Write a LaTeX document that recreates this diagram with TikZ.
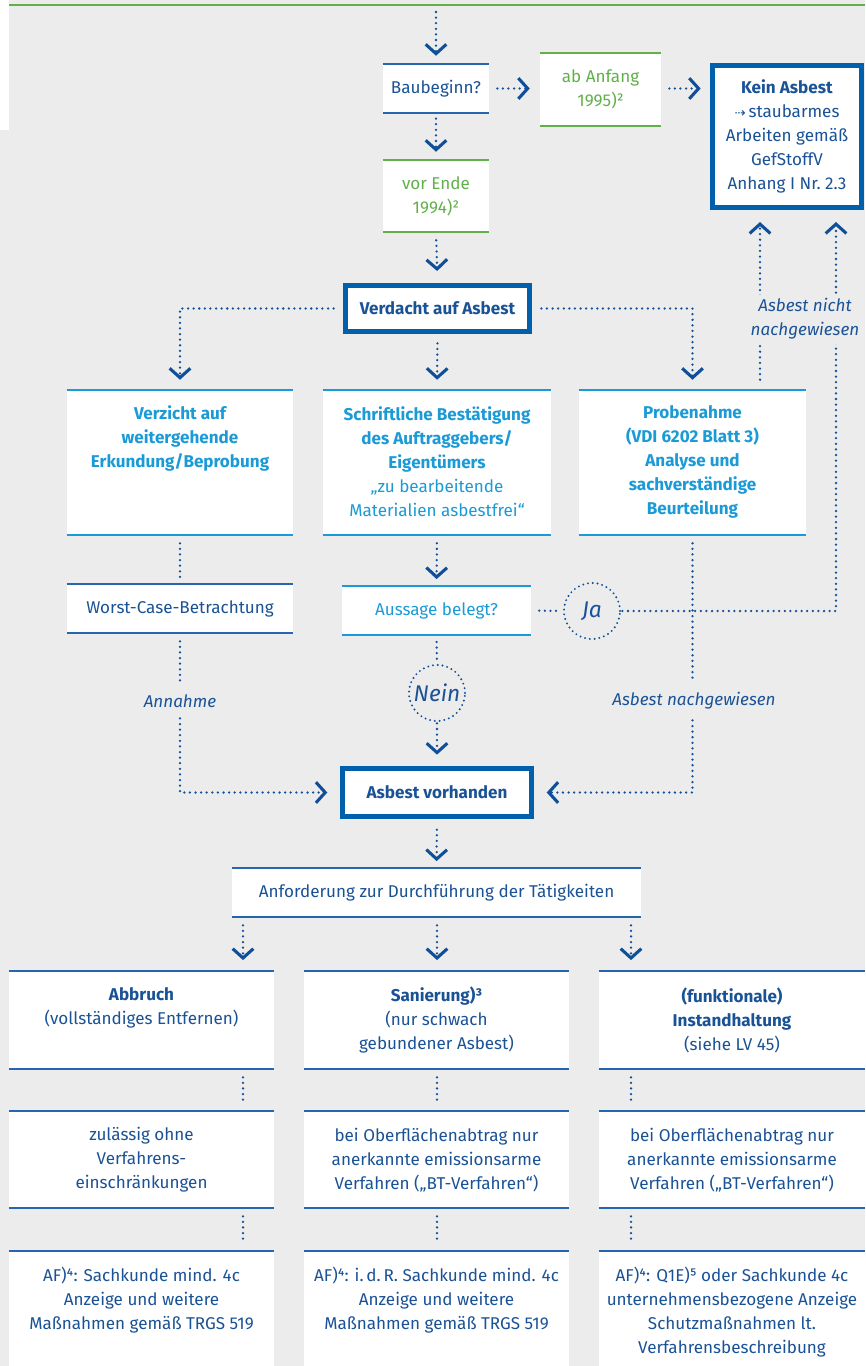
\documentclass[tikz,border=0pt]{standalone}
\usepackage{fontspec}
\setmainfont{Fira Sans}
\newfontfamily\dejavu{DejaVu Sans}
\usetikzlibrary{arrows.meta,fit,calc}
\definecolor{bg}{HTML}{ECECEC}
\definecolor{gr}{HTML}{62B04A}
\definecolor{dkblue}{HTML}{1A5296}
\definecolor{arrc}{HTML}{0F4E98}
\definecolor{midblue}{HTML}{0060AC}
\definecolor{lnblue}{HTML}{2566AE}
\definecolor{cy}{HTML}{1A9AD6}
\newcommand\tbl[2]{\draw[line width=1.7pt,#2] (#1.north west) -- (#1.north east) (#1.south west) -- (#1.south east);}
\newcommand\topl[2]{\draw[line width=1.7pt,#2] (#1.north west) -- (#1.north east);}
\begin{document}
\begin{tikzpicture}[x=0.75pt,y=-0.75pt,
  box/.style={inner sep=0pt, fill=white, draw=none},
  thickbox/.style={inner sep=0pt, fill=white, draw=midblue, line width=3.8pt},
  txt/.style={align=center, inner sep=0pt, text=dkblue, font=\fontsize{12.8}{18}\selectfont},
  txtb/.style={txt, font=\fontsize{12.8}{18}\selectfont\bfseries},
  lab/.style={txt, font=\fontsize{12.8}{18}\selectfont\itshape, fill=bg, inner sep=3pt},
  dl/.style={draw=arrc, line width=1.9pt, line cap=round, dash pattern=on 0pt off 4.2pt},
  circ/.style={circle, minimum size=42pt, inner sep=0pt, draw=arrc, line width=1.6pt, line cap=round, dash pattern=on 0pt off 3.6pt, text=dkblue, font=\fontsize{17}{18}\selectfont\itshape},
  arr/.style={-{Straight Barb[length=7pt,width=15.5pt,line width=2.3pt]}},
]
\useasboundingbox (0,0) rectangle (865,1366);
\fill[bg] (0,0) rectangle (865,1366);
\fill[white] (0,0) rectangle (9,130);
\draw[gr, line width=2.2pt] (9,5) -- (865,5);

% ---------- boxes ----------
\node[box, fit={(383,64) (489,113)}] (bau) {};
\tbl{bau}{lnblue}
\node[txt] (bau-t) at (bau) {Baubeginn?};

\node[box, fit={(540,53) (661,126)}] (ab) {};
\tbl{ab}{gr}
\node[txt, text=gr] (ab-t) at (600.5,89) {ab Anfang\\1995)²};

\node[thickbox, fit={(712.5,65.5) (861.5,207.5)}] (kein) {};
\node[txt] (kein-t) at (787,136) {\textbf{Kein Asbest}\\{\dejavu\fontsize{10}{10}\selectfont ⇢}\,staubarmes\\Arbeiten gemäß\\GefStoffV\\Anhang I Nr.~2.3};

\node[box, fit={(383,160) (489,232)}] (vor) {};
\tbl{vor}{gr}
\node[txt, text=gr] (vor-t) at (436,196) {vor Ende\\1994)²};

\node[thickbox, fit={(345.5,285.5) (529.5,331.5)}] (verd) {};
\node[txtb] (verd-t) at (verd) {Verdacht auf Asbest};

\node[box, fit={(67,390) (293,535)}] (verz) {};
\tbl{verz}{cy}
\node[txtb, text=cy] (verz-t) at (180,438) {Verzicht auf\\weitergehende\\Erkundung/Beprobung};

\node[box, fit={(323,390) (551,535)}] (schr) {};
\tbl{schr}{cy}
\node[txt, text=cy] (schr-t) at (437,462) {\textbf{Schriftliche Bestätigung}\\\textbf{des Auftraggebers/}\\\textbf{Eigentümers}\\„zu bearbeitende\\Materialien asbestfrei“};

\node[box, fit={(579,390) (806,535)}] (prob) {};
\tbl{prob}{cy}
\node[txtb, text=cy] (prob-t) at (692.5,462) {Probenahme\\(VDI 6202 Blatt 3)\\Analyse und\\sachverständige\\Beurteilung};

\node[box, fit={(67,584) (293,633)}] (worst) {};
\tbl{worst}{lnblue}
\node[txt] (worst-t) at (worst) {Worst-Case-Betrachtung};

\node[box, fit={(342,586) (531,635)}] (auss) {};
\tbl{auss}{cy}
\node[txt, text=cy] (auss-t) at (auss) {Aussage belegt?};

\node[circ] (ja) at (592,611) {Ja};
\node[circ] (nein) at (437,693) {Nein};

\node[thickbox, fit={(342.5,768.5) (531.5,816.5)}] (vorh) {};
\node[txtb] (vorh-t) at (vorh) {Asbest vorhanden};

\node[box, fit={(232,868) (641,917)}] (anf) {};
\tbl{anf}{lnblue}
\node[txt] (anf-t) at (anf) {Anforderung zur Durchführung der Tätigkeiten};

\node[box, fit={(9,971) (274,1069)}] (abb) {};
\tbl{abb}{lnblue}
\node[txt] (abb-t) at (141.5,1008) {\textbf{Abbruch}\\(vollständiges Entfernen)};
\node[box, fit={(304,971) (569,1069)}] (san) {};
\tbl{san}{lnblue}
\node[txt] (san-t) at (436.5,1020) {\textbf{Sanierung)³}\\(nur schwach\\gebundener Asbest)};
\node[box, fit={(599,971) (865,1069)}] (inst) {};
\tbl{inst}{lnblue}
\node[txt] (inst-t) at (732,1020) {\textbf{(funktionale)}\\\textbf{Instandhaltung}\\(siehe LV 45)};

\node[box, fit={(9,1111) (274,1208)}] (zul) {};
\tbl{zul}{lnblue}
\node[txt] (zul-t) at (141.5,1160) {zulässig ohne\\Verfahrens-\\einschränkungen};
\node[box, fit={(304,1111) (569,1208)}] (ob1) {};
\tbl{ob1}{lnblue}
\node[txt] (ob1-t) at (436.5,1160) {bei Oberflächenabtrag nur\\anerkannte emissionsarme\\Verfahren („BT-Verfahren“)};
\node[box, fit={(599,1111) (865,1208)}] (ob2) {};
\tbl{ob2}{lnblue}
\node[txt] (ob2-t) at (732,1160) {bei Oberflächenabtrag nur\\anerkannte emissionsarme\\Verfahren („BT-Verfahren“)};

\node[box, fit={(9,1251) (274,1366)}] (af1) {};
\topl{af1}{lnblue}
\node[txt] (af1-t) at (141.5,1300) {AF)⁴: Sachkunde mind. 4c\\Anzeige und weitere\\Maßnahmen gemäß TRGS 519};
\node[box, fit={(304,1251) (569,1366)}] (af2) {};
\topl{af2}{lnblue}
\node[txt] (af2-t) at (436.5,1300) {AF)⁴: i.\,d.\,R. Sachkunde mind. 4c\\Anzeige und weitere\\Maßnahmen gemäß TRGS 519};
\node[box, fit={(599,1251) (865,1366)}] (af3) {};
\topl{af3}{lnblue}
\node[txt] (af3-t) at (732,1312) {AF)⁴: Q1E)⁵ oder Sachkunde 4c\\unternehmensbezogene Anzeige\\Schutzmaßnahmen lt.\\Verfahrensbeschreibung};

% ---------- connectors ----------
\coordinate (start) at (436,12);
\draw[dl,arr,shorten >=6pt] (start) -- (bau.north);
\draw[dl,arr,shorten <=6pt,shorten >=7.5pt] (bau.east) -- (bau.east -| ab.west);
\draw[dl,arr,shorten <=6pt,shorten >=7pt] (ab.east |- bau.east) -- (bau.east -| kein.west);
\draw[dl,arr,shorten <=4pt,shorten >=6pt] (bau.south) -- (vor.north);
\draw[dl,arr,shorten <=6pt,shorten >=9pt] (vor.south) -- (verd.north);
\draw[dl,arr,shorten <=7pt,shorten >=7.5pt] (verd.west) -| (verz.north);
\draw[dl,arr,shorten <=7pt,shorten >=7.5pt] (verd.south) -- (schr.north);
\draw[dl,arr,shorten <=7pt,shorten >=7.5pt] (verd.east) -| (prob.north);

\draw[dl,shorten <=6pt,shorten >=5pt] (verz.south) -- (worst.north);
\draw[dl,arr,shorten <=6pt,shorten >=5pt] (schr.south) -- (auss.north);
\draw[dl,shorten <=6pt,shorten >=1pt] (auss.east) -- (ja.west);
\draw[dl,shorten <=5pt,shorten >=1pt] (auss.south) -- (nein.north);
\draw[dl,arr,shorten <=1pt,shorten >=8.5pt] (nein.south) -- (vorh.north);

% Ja -> Kein Asbest, Probenahme -> Kein Asbest
\coordinate (kr) at ($(kein.south)+(49,0)$);
\coordinate (kl) at ($(kein.south)+(-27,0)$);
\draw[dl,arr,shorten <=1pt,shorten >=9pt] (ja.east) -| (kr);
\draw[dl,arr,shorten <=7.5pt,shorten >=9pt] (prob.north -| kl) -- (kl);
\node[lab] (nnach) at (805,319) {Asbest nicht\\nachgewiesen};

% left / right into Asbest vorhanden
\node[lab, inner sep=0pt] (ann) at (180,701) {Annahme};
\node[lab, inner sep=0pt] (nach) at (694,701) {Asbest nachgewiesen};
\draw[dl,shorten <=6pt,shorten >=8pt] (worst.south) -- (ann.north -| worst.south);
\draw[dl,arr,shorten <=8pt,shorten >=9.5pt] (ann.south -| worst.south) |- (vorh.west);
\draw[dl,shorten <=6pt,shorten >=8pt] (prob.south) -- (nach.north -| prob.south);
\draw[dl,arr,shorten <=8pt,shorten >=9.5pt] (nach.south -| prob.south) |- (vorh.east);

\draw[dl,arr,shorten <=8pt,shorten >=5pt] (vorh.south) -- (anf.north);

\coordinate (c1) at (243,0);
\coordinate (c2) at (437,0);
\coordinate (c3) at (631,0);
\draw[dl,arr,shorten <=6pt,shorten >=8pt] (anf.south -| c1) -- (abb.north -| c1);
\draw[dl,arr,shorten <=6pt,shorten >=8pt] (anf.south -| c2) -- (san.north -| c2);
\draw[dl,arr,shorten <=6pt,shorten >=8pt] (anf.south -| c3) -- (inst.north -| c3);
\draw[dl,shorten <=6pt,shorten >=6pt] (abb.south -| c1) -- (zul.north -| c1);
\draw[dl,shorten <=6pt,shorten >=6pt] (san.south -| c2) -- (ob1.north -| c2);
\draw[dl,shorten <=6pt,shorten >=6pt] (inst.south -| c3) -- (ob2.north -| c3);
\draw[dl,shorten <=6pt,shorten >=5pt] (zul.south -| c1) -- (af1.north -| c1);
\draw[dl,shorten <=6pt,shorten >=5pt] (ob1.south -| c2) -- (af2.north -| c2);
\draw[dl,shorten <=6pt,shorten >=5pt] (ob2.south -| c3) -- (af3.north -| c3);
\end{tikzpicture}
\end{document}
